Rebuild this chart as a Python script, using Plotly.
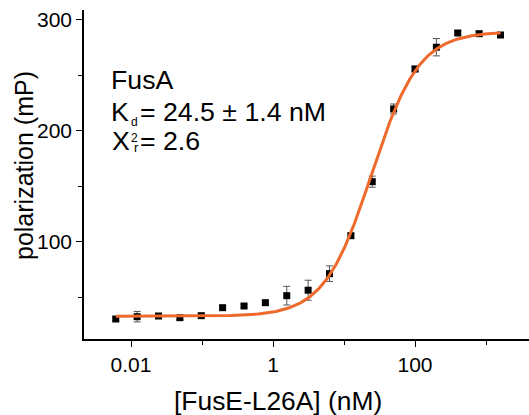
import numpy as np
import plotly.graph_objects as go

# FusE-L26A titration (two-fold serial dilution), nM
conc_nM = [0.0061, 0.0122, 0.0244, 0.0488, 0.0977, 0.195, 0.391, 0.781,
           1.5625, 3.125, 6.25, 12.5, 25.0, 50.0, 100.0, 200.0, 400.0, 800.0, 1600.0]
# fluorescence polarization, mP
polarization_mP = [30.4, 32.5, 33.1, 31.6, 33.4, 40.6, 42.1, 45.1,
                   51.4, 56.3, 71.2, 105.4, 154.0, 219.4, 255.4, 275.0, 287.8, 287.2, 286.0]
# standard deviation, mP
sd_mP = [1.5, 4.7, 2.0, 2.0, 2.0, 1.5, 1.5, 1.5,
         8.4, 9.0, 7.0, 2.0, 5.0, 4.5, 2.5, 7.8, 2.0, 2.0, 2.0]

# fitted binding isotherm
Kd_nM = 24.5
hill_n = 1.3
fp_free = 32.8
fp_bound = 289.0

x_fit = np.geomspace(conc_nM[0], conc_nM[-1], 400)
y_fit = fp_free + (fp_bound - fp_free) * x_fit**hill_n / (Kd_nM**hill_n + x_fit**hill_n)

x_major = [0.01, 1, 100]
x_major_text = ["0.01", "1", "100"]
x_minor = [0.1, 10, 1000]
y_major = [100, 200, 300]
y_minor = [50, 150, 250]

W, H = 529, 415
L, R, T, B = 84, 529, 10, 339
FONT = "Liberation Sans, Arial, sans-serif"
BIG = 26.7


def px(xp):
    return (xp - L) / (R - L)


def py(yp):
    return (B - yp) / (B - T)


fig = go.Figure()
fig.add_trace(go.Scatter(
    x=conc_nM, y=polarization_mP, mode="markers",
    marker=dict(symbol="square", size=7, color="black", line=dict(width=0)),
    error_y=dict(type="data", array=sd_mP, visible=True,
                 color="#555555", thickness=1, width=3.5),
    showlegend=False,
))
fig.add_trace(go.Scatter(
    x=x_fit, y=y_fit, mode="lines",
    line=dict(color="#EE6A2C", width=3),
    showlegend=False,
))


def text_at(text, left, baseline, size):
    # place a text run by its left edge and baseline (pixels)
    fig.add_annotation(
        text=text, xref="paper", yref="paper",
        x=px(left - 3), y=py(baseline - 2 - 0.905 * size),
        xanchor="left", yanchor="top", showarrow=False,
        font=dict(family=FONT, size=size, color="black"),
    )


text_at("FusA", 112, 89, BIG)
text_at("K", 112, 121.5, BIG)
text_at("d", 131.5, 126, 12)
text_at("= 24.5 ± 1.4 nM", 141, 121.5, BIG)
text_at("Χ", 112.5, 150, BIG)
text_at("2", 131.5, 141.7, 12)
text_at("r", 135, 151.7, 13)
text_at("= 2.6", 141, 150, BIG)

# axis titles
fig.add_annotation(
    text="[FusE-L26A] (nM)", xref="paper", yref="paper",
    x=px(277.5), y=py(410 - 2 - 0.905 * 26.4), xanchor="center", yanchor="top",
    showarrow=False, font=dict(family=FONT, size=26.4, color="black"),
)
fig.add_annotation(
    text="polarization (mP)", xref="paper", yref="paper",
    x=px(24), y=py(166), xanchor="center", yanchor="middle", textangle=-90,
    showarrow=False, font=dict(family=FONT, size=25, color="black"),
)

fig.update_xaxes(
    type="log", range=[np.log10(0.01) - (131 - L) / 71, np.log10(0.01) + (R - 131) / 71],
    tickmode="array", tickvals=x_major, ticktext=x_major_text,
    ticks="outside", ticklen=6, tickwidth=1.2, tickcolor="black",
    minor=dict(tickmode="array", tickvals=x_minor, ticks="outside", ticklen=4,
               tickwidth=1.2, tickcolor="black"),
    showline=True, linecolor="black", linewidth=1.5,
    showgrid=False, zeroline=False,
    tickfont=dict(family=FONT, size=21, color="black"),
)
fig.update_yaxes(
    range=[12.4, 308.5],
    tickmode="array", tickvals=y_major,
    ticks="outside", ticklen=6, tickwidth=1.2, tickcolor="black",
    minor=dict(tickmode="array", tickvals=y_minor, ticks="outside", ticklen=4,
               tickwidth=1.2, tickcolor="black"),
    showline=True, linecolor="black", linewidth=1.5,
    showgrid=False, zeroline=False,
    tickfont=dict(family=FONT, size=21, color="black"),
)
fig.update_layout(
    width=W, height=H,
    margin=dict(l=L, r=W - R, t=T, b=H - B, pad=0),
    plot_bgcolor="white", paper_bgcolor="white",
    font=dict(family=FONT, color="black"),
)

fig.write_html("out.html")
